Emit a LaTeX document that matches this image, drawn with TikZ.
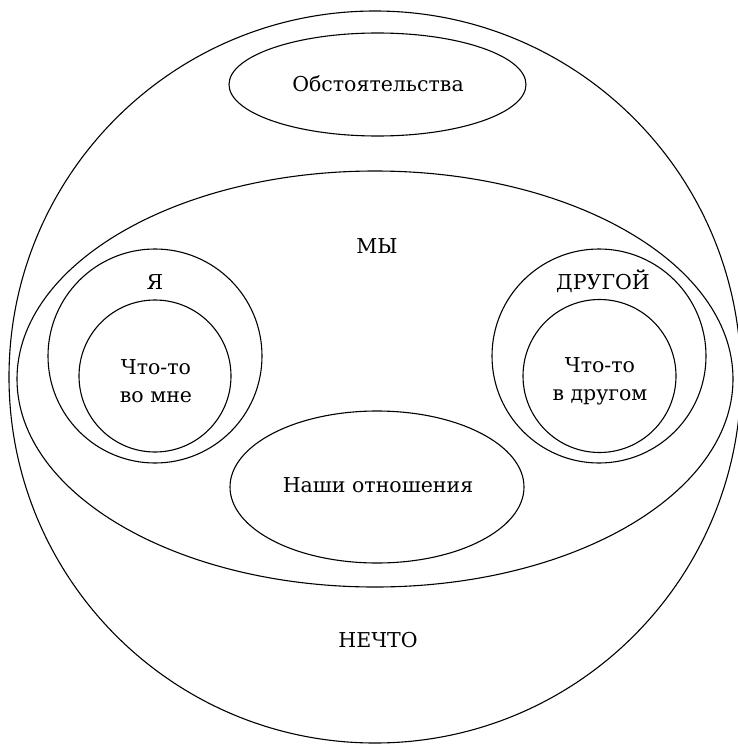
\documentclass[tikz,border=0pt]{standalone}
\usepackage{fontspec}
\setmainfont{DejaVu Serif}
\usetikzlibrary{shapes.geometric}

\tikzset{
  zone/.style={draw, line width=1.1pt, inner sep=0pt},
  roundzone/.style={zone, circle},
  ovalzone/.style={zone, ellipse},
  word/.style={font=\fontsize{20.5}{28}\selectfont, align=center, inner sep=0pt}
}

\begin{document}
\begin{tikzpicture}[x=1pt,y=-1pt]
\useasboundingbox (0,0) rectangle (738,744);
% outer world and the "we" field
\node[roundzone, minimum size=732] (nechto) at (375,377) {};
\node[ovalzone, minimum width=716, minimum height=416] (my) at (375,379) {};
\node[ovalzone, minimum width=297, minimum height=103] (obst) at (377.5,84.5) {};
\node[ovalzone, minimum width=294, minimum height=152] (otn) at (377,487) {};
% me and the other
\node[roundzone, minimum size=214] (ya) at (155,356) {};
\node[roundzone, minimum size=152] (vomne) at (155,376) {};
\node[roundzone, minimum size=214] (drug) at (599,356) {};
\node[roundzone, minimum size=153] (vdrugom) at (599.5,376) {};
% texts
\node[word] (obsttxt) at (378,84) {Обстоятельства};
\node[word] (mytxt) at (377,246) {МЫ};
\node[word] (yatxt) at (155,282) {Я};
\node[word] (drugtxt) at (603,281) {ДРУГОЙ};
\node[word] (vomnetxt) at (156,381) {Что-то\\во мне};
\node[word] (vdrugomtxt) at (600,381) {Что-то\\в другом};
\node[word] (otntxt) at (378,485) {Наши отношения};
\node[word] (nechtotxt) at (378,640) {НЕЧТО};
\end{tikzpicture}
\end{document}
